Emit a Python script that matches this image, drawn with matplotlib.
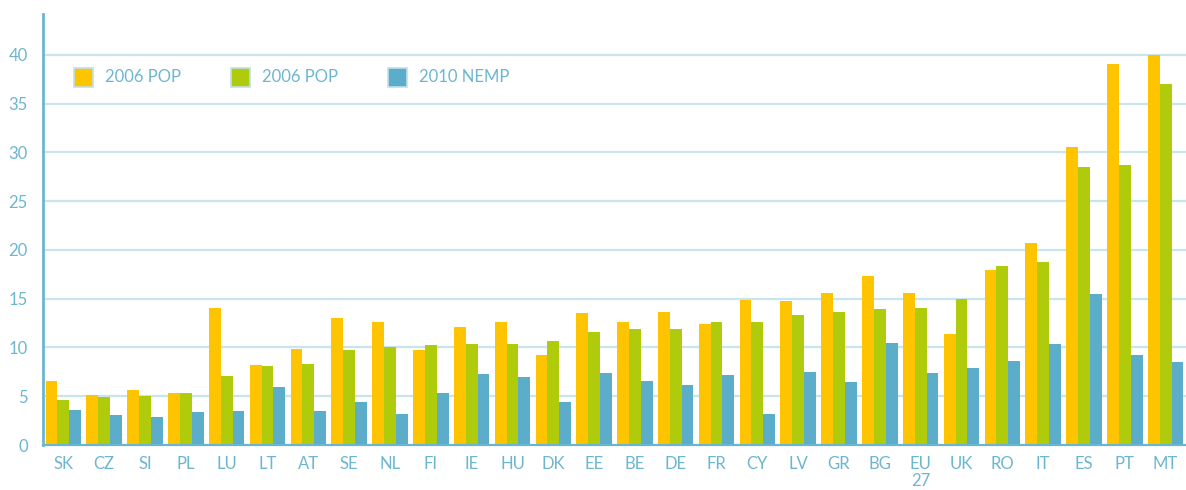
import matplotlib
matplotlib.use("Agg")
import matplotlib.pyplot as plt
import numpy as np

countries = ["SK", "CZ", "SI", "PL", "LU", "LT", "AT", "SE", "NL", "FI",
             "IE", "HU", "DK", "EE", "BE", "DE", "FR", "CY", "LV", "GR",
             "BG", "EU\n27", "UK", "RO", "IT", "ES", "PT", "MT"]
pop_2006_a = [6.6, 5.1, 5.6, 5.3, 14.1, 8.2, 9.8, 13.0, 12.6, 9.7,
              12.1, 12.6, 9.2, 13.5, 12.6, 13.6, 12.4, 14.9, 14.8, 15.6,
              17.3, 15.6, 11.4, 17.9, 20.7, 30.6, 39.1, 40.0]
pop_2006_b = [4.6, 4.9, 5.0, 5.3, 7.1, 8.1, 8.3, 9.7, 10.1, 10.3,
              10.4, 10.4, 10.7, 11.6, 11.9, 11.9, 12.6, 12.6, 13.3, 13.6,
              13.9, 14.0, 15.0, 18.4, 18.8, 28.5, 28.7, 37.0]
nemp_2010 = [3.6, 3.1, 2.9, 3.4, 3.5, 5.9, 3.5, 4.4, 3.2, 5.3,
             7.3, 7.0, 4.4, 7.4, 6.6, 6.2, 7.2, 3.2, 7.5, 6.5,
             10.5, 7.4, 7.9, 8.6, 10.4, 15.5, 9.2, 8.5]
series_labels = ["2006 POP", "2006 POP", "2010 NEMP"]
yticks = [0, 5, 10, 15, 20, 25, 30, 35, 40]

YELLOW = "#FFC400"
GREEN = "#B0CB0C"
BLUE = "#5BADC9"
TEXT = "#6DB6D0"
GRID = "#C8E4EC"
AXIS = "#6CB5CF"

plt.rcParams["font.family"] = ["Lato", "DejaVu Sans"]

fig = plt.figure(figsize=(11.86, 4.9), dpi=100)
ax = fig.add_axes([43 / 1186, 1 - 445 / 490, 1 - 43 / 1186, (445 - 14) / 490])

x = np.arange(len(countries))
w = 0.29
colors = [YELLOW, GREEN, BLUE]
for k, vals in enumerate([pop_2006_a, pop_2006_b, nemp_2010]):
    ax.bar(x + (k - 1) * w, vals, width=w, color=colors[k], zorder=2,
           label=series_labels[k])

ax.set_xlim(-0.5, len(countries) - 0.5)
ax.set_ylim(0, 44.2)
ax.set_yticks(yticks)
ax.set_yticklabels([str(t) for t in yticks])
ax.set_xticks(x)
ax.set_xticklabels(countries, linespacing=1.1)
ax.tick_params(axis="both", length=0, labelsize=12, colors=TEXT)
ax.tick_params(axis="y", pad=11)
ax.tick_params(axis="x", pad=8)

for t in yticks[1:]:
    ax.axhline(t, color=GRID, lw=1.6, zorder=1)

for side in ["top", "right"]:
    ax.spines[side].set_visible(False)
ax.spines["left"].set_color(AXIS)
ax.spines["left"].set_linewidth(2)
ax.spines["bottom"].set_color(AXIS)
ax.spines["bottom"].set_linewidth(1.6)

# legend: squares with pale border, placed inside the axes
leg_x = [74, 231, 388]
for k in range(3):
    px = leg_x[k]
    fig.patches.append(plt.Rectangle((px / 1186, 1 - 87 / 490), 19 / 1186, 19 / 490,
                                     transform=fig.transFigure, facecolor=colors[k],
                                     edgecolor="#BFE0EA", lw=1.2))
    fig.text((px + 31) / 1186, 1 - 77 / 490, series_labels[k], color=TEXT,
             fontsize=12, va="center", ha="left")

fig.savefig("out.png", dpi=100)
